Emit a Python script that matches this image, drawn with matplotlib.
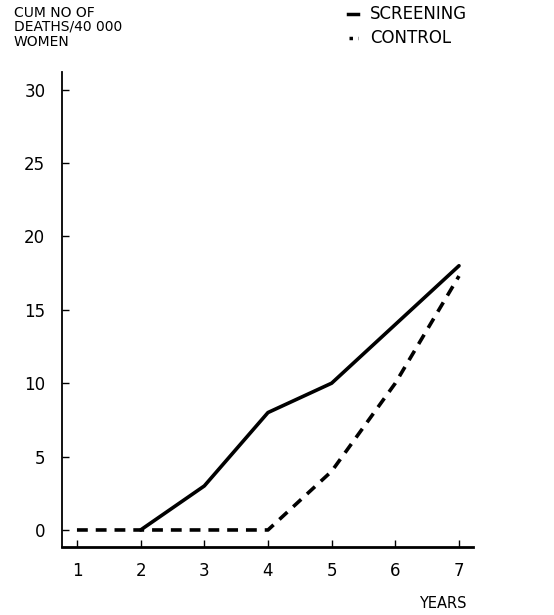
import matplotlib
matplotlib.use("Agg")
import matplotlib.pyplot as plt

years = [1, 2, 3, 4, 5, 6, 7]
screening_years = [2, 3, 4, 5, 6, 7]
screening = [0, 3, 8, 10, 14, 18]
control = [0, 0, 0, 0, 4, 10, 17.3]
yticks = [0, 5, 10, 15, 20, 25, 30]

W, H = 554, 615
fig = plt.figure(figsize=(W / 100, H / 100), dpi=100)
left, right, top, bottom = 62, 473, 72, 547
ax = fig.add_axes([left / W, 1 - bottom / H, (right - left) / W, (bottom - top) / H])

ax.plot(screening_years, screening, color="black", lw=2.6, solid_capstyle="round")
ax.plot(years, control, color="black", lw=2.6, dashes=(3, 2.2))

ax.set_xlim(0.765, 7.22)
ax.set_ylim(-1.16, 31.2)
ax.set_xticks(years)
ax.set_yticks(yticks)
for s in ["top", "right"]:
    ax.spines[s].set_visible(False)
ax.spines["left"].set_linewidth(1.3)
ax.spines["bottom"].set_linewidth(2.0)
ax.tick_params(direction="in", length=5, width=1.0, labelsize=12, pad=12)
ax.tick_params(axis="x", pad=11)

fs = 10
fig.text(14 / W, 1 - 13 / H, "CUM NO OF", fontsize=fs, va="center", ha="left")
fig.text(14 / W, 1 - 27 / H, "DEATHS/40 000", fontsize=fs, va="center", ha="left")
fig.text(14 / W, 1 - 42 / H, "WOMEN", fontsize=fs, va="center", ha="left")

fig.lines.append(plt.Line2D([348 / W, 358 / W], [1 - 14 / H, 1 - 14 / H], transform=fig.transFigure, color="black", lw=2.5))
fig.lines.append(plt.Line2D([349 / W, 358 / W], [1 - 38 / H, 1 - 38 / H], transform=fig.transFigure, color="black", lw=2.5, dashes=(1, 1.5)))
fig.text(370 / W, 1 - 14 / H, "SCREENING", fontsize=12, va="center", ha="left")
fig.text(370 / W, 1 - 38 / H, "CONTROL", fontsize=12, va="center", ha="left")

fig.text(467 / W, 1 - 604 / H, "YEARS", fontsize=10.5, va="center", ha="right")

fig.savefig("out.png", dpi=100)
